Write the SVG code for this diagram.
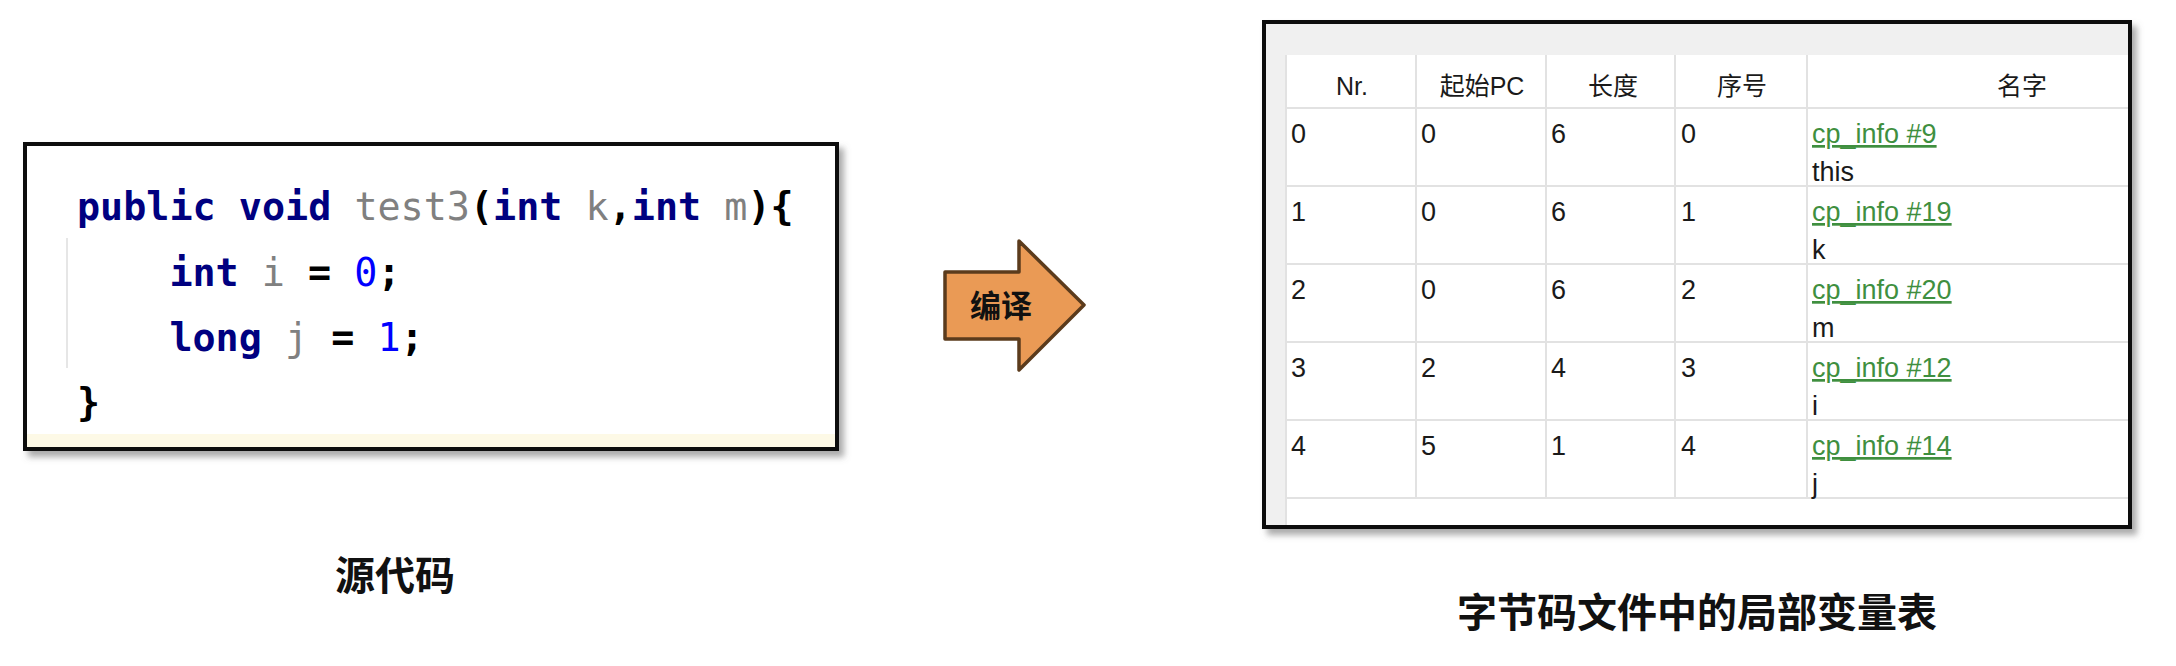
<svg xmlns="http://www.w3.org/2000/svg" width="2176" height="666" viewBox="0 0 2176 666">
<defs>
<filter id="shadow" x="-5%" y="-5%" width="115%" height="120%">
<feDropShadow dx="5" dy="6" stdDeviation="3" flood-color="#666" flood-opacity="0.55"/>
</filter>
<style>
.code{font-family:"DejaVu Sans Mono","Liberation Mono",monospace;font-size:38.4px}
.kw{fill:#000080;font-weight:bold}
.id{fill:#808080}
.pn{fill:#000;font-weight:bold}
.num{fill:#0000ff}
.cell{font-family:"Liberation Sans","Noto Sans CJK SC",sans-serif;font-size:27px;fill:#1a1a1a}
.hdr{font-family:"Liberation Sans","Noto Sans CJK SC",sans-serif;font-size:25px;fill:#1a1a1a;text-anchor:middle}
.link{fill:#3f8f3f;text-decoration:underline}
.grid{stroke:#e2e2e2;stroke-width:2}
.title{font-family:"Noto Sans CJK SC","Liberation Sans",sans-serif;font-size:40px;font-weight:bold;fill:#111;text-anchor:middle}
</style>
</defs>
<rect width="2176" height="666" fill="#fff"/>

<g id="source-code">
<rect x="25" y="144" width="812" height="305" fill="#fff" stroke="#111" stroke-width="4" filter="url(#shadow)"/>
<rect x="27" y="434" width="808" height="13" fill="#fdf9e6"/>
<line x1="67" y1="238" x2="67" y2="368" stroke="#e6e6e6" stroke-width="2"/>
<text class="code" x="77" y="220"><tspan class="kw">public</tspan> <tspan class="kw">void</tspan> <tspan class="id">test3</tspan><tspan class="pn">(</tspan><tspan class="kw">int</tspan> <tspan class="id">k</tspan><tspan class="pn">,</tspan><tspan class="kw">int</tspan> <tspan class="id">m</tspan><tspan class="pn">){</tspan></text>
<text class="code" x="169.4" y="286"><tspan class="kw">int</tspan> <tspan class="id">i</tspan> <tspan class="pn">=</tspan> <tspan class="num">0</tspan><tspan class="pn">;</tspan></text>
<text class="code" x="169.4" y="351"><tspan class="kw">long</tspan> <tspan class="id">j</tspan> <tspan class="pn">=</tspan> <tspan class="num">1</tspan><tspan class="pn">;</tspan></text>
<text class="code" x="77" y="416"><tspan class="pn">}</tspan></text>
</g>

<g id="connectors">
<g id="compile-arrow">
<polygon points="945,272 1019,272 1019,241 1084,305 1019,370 1019,339 945,339" fill="#ea9a55" stroke="#5b3b1c" stroke-width="3.5" stroke-linejoin="round"/>
<text x="1001" y="317" font-family="Noto Sans CJK SC, sans-serif" font-size="31" font-weight="bold" fill="#111" text-anchor="middle">编译</text>
</g>
</g>

<g id="bytecode-table">
<rect x="1264" y="22" width="866" height="505" fill="#f0f0f0" stroke="#111" stroke-width="4" filter="url(#shadow)"/>
<rect x="1286" y="55" width="842" height="470" fill="#fff"/>
<line class="grid" x1="1286" y1="55" x2="1286" y2="525"/>
<line class="grid" x1="1286" y1="108" x2="2128" y2="108"/>
<line class="grid" x1="1286" y1="186" x2="2128" y2="186"/>
<line class="grid" x1="1286" y1="264" x2="2128" y2="264"/>
<line class="grid" x1="1286" y1="342" x2="2128" y2="342"/>
<line class="grid" x1="1286" y1="420" x2="2128" y2="420"/>
<line class="grid" x1="1286" y1="498" x2="2128" y2="498"/>
<line class="grid" x1="1416" y1="55" x2="1416" y2="498"/>
<line class="grid" x1="1546" y1="55" x2="1546" y2="498"/>
<line class="grid" x1="1675" y1="55" x2="1675" y2="498"/>
<line class="grid" x1="1807" y1="55" x2="1807" y2="498"/>

<text class="hdr" x="1352" y="95">Nr.</text>
<text class="hdr" x="1482" y="95">起始PC</text>
<text class="hdr" x="1613" y="95">长度</text>
<text class="hdr" x="1742" y="95">序号</text>
<text class="hdr" x="2022" y="95">名字</text>

<g class="cell">
<text x="1291" y="143">0</text><text x="1421" y="143">0</text><text x="1551" y="143">6</text><text x="1681" y="143">0</text>
<text x="1812" y="143" class="link">cp_info #9</text><text x="1812" y="181">this</text>
<text x="1291" y="221">1</text><text x="1421" y="221">0</text><text x="1551" y="221">6</text><text x="1681" y="221">1</text>
<text x="1812" y="221" class="link">cp_info #19</text><text x="1812" y="259">k</text>
<text x="1291" y="299">2</text><text x="1421" y="299">0</text><text x="1551" y="299">6</text><text x="1681" y="299">2</text>
<text x="1812" y="299" class="link">cp_info #20</text><text x="1812" y="337">m</text>
<text x="1291" y="377">3</text><text x="1421" y="377">2</text><text x="1551" y="377">4</text><text x="1681" y="377">3</text>
<text x="1812" y="377" class="link">cp_info #12</text><text x="1812" y="415">i</text>
<text x="1291" y="455">4</text><text x="1421" y="455">5</text><text x="1551" y="455">1</text><text x="1681" y="455">4</text>
<text x="1812" y="455" class="link">cp_info #14</text><text x="1812" y="493">j</text>
</g>
</g>

<g id="label-source">
<text class="title" x="395" y="590">源代码</text>
</g>
<g id="label-table">
<text class="title" x="1697" y="627">字节码文件中的局部变量表</text>
</g>
</svg>
